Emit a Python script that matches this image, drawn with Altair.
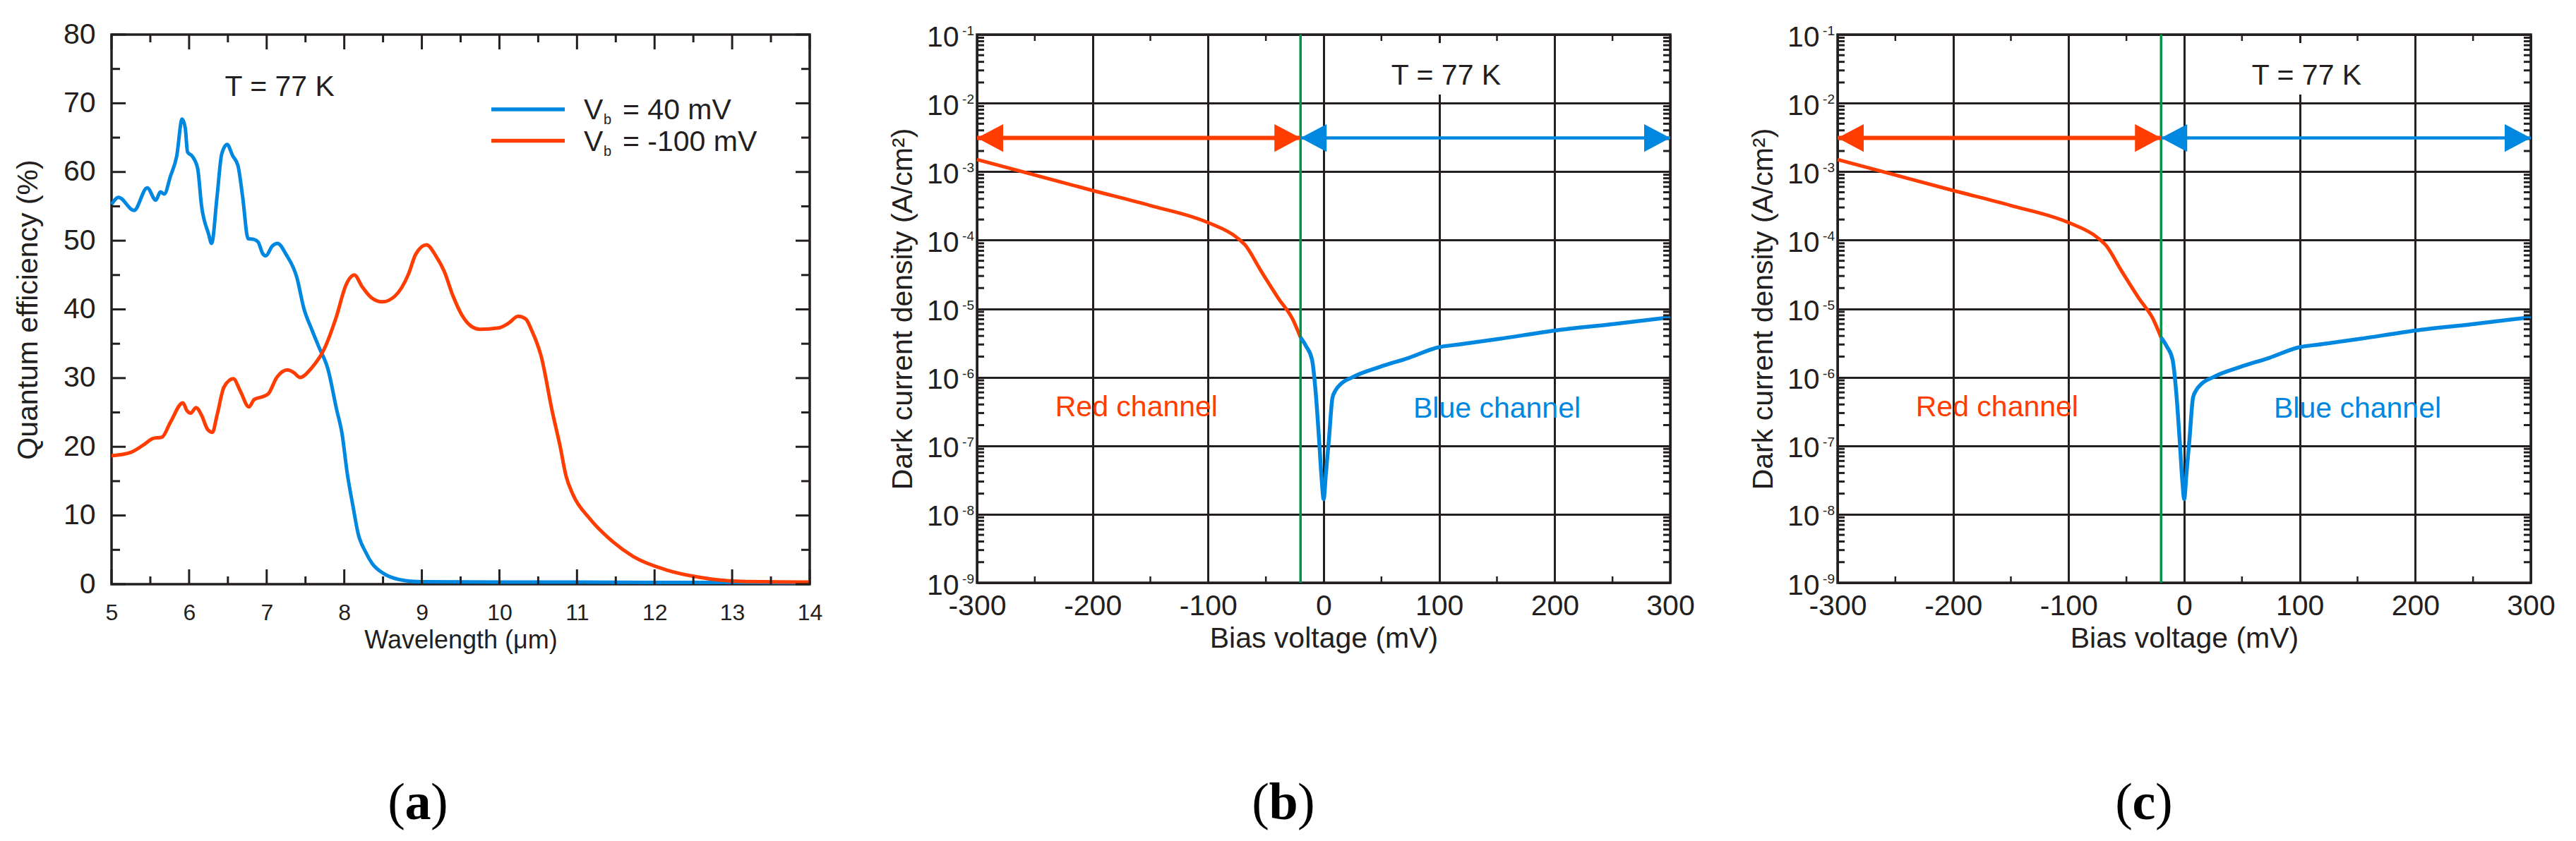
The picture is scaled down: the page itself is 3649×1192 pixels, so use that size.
import altair as alt
import pandas as pd

TXT = "#231F20"
BLUE = "#0088E0"
RED = "#FF3D00"
GREEN = "#00934A"
FONT = "Liberation Sans"
SERIF = "Liberation Serif"

WA, HA = 989, 779
WB, HB = 982, 777

# ---------------- panel (a): quantum efficiency ----------------
wl_blue = [5.00, 5.09, 5.29, 5.46, 5.57, 5.63, 5.68, 5.76, 5.84, 5.91,
           5.95, 5.98, 6.04, 6.11, 6.16, 6.25, 6.29, 6.36, 6.42, 6.49,
           6.56, 6.63, 6.69, 6.76, 6.83, 6.89, 6.95, 6.99, 7.07, 7.14,
           7.25, 7.39, 7.48, 7.58, 7.67, 7.79, 7.90, 7.97, 8.04, 8.11,
           8.18, 8.27, 8.36, 8.50, 8.70, 9.00, 10.0, 11.0, 12.0, 13.0, 14.0]
qe_blue = [55.3, 56.3, 54.4, 57.7, 55.9, 57.1, 56.8, 59.4, 62.3, 67.7,
           66.4, 62.9, 62.3, 60.5, 55.1, 51.0, 49.6, 56.4, 62.6, 64.0,
           62.4, 60.9, 56.4, 50.3, 50.2, 49.8, 48.1, 47.8, 49.2, 49.6,
           48.0, 44.6, 40.1, 37.1, 34.6, 31.3, 25.5, 22.0, 16.0, 11.5,
           7.3, 4.8, 3.0, 1.6, 0.7, 0.35, 0.3, 0.3, 0.25, 0.25, 0.2]

wl_red = [5.00, 5.25, 5.44, 5.53, 5.65, 5.76, 5.92, 5.97, 6.02, 6.09,
          6.16, 6.24, 6.30, 6.36, 6.45, 6.57, 6.66, 6.77, 6.84, 6.95,
          7.02, 7.13, 7.27, 7.35, 7.43, 7.58, 7.74, 7.90, 8.02, 8.13,
          8.23, 8.35, 8.49, 8.65, 8.83, 8.92, 9.06, 9.18, 9.29, 9.40,
          9.52, 9.63, 9.75, 9.99, 10.12, 10.24, 10.34, 10.41, 10.54, 10.68,
          10.78, 10.86, 10.95, 11.16, 11.46, 11.73, 12.16, 12.58, 13.1, 14.0]
qe_red = [18.7, 19.2, 20.5, 21.2, 21.4, 23.6, 26.4, 25.3, 24.9, 25.7,
          24.6, 22.5, 22.1, 24.6, 28.7, 29.9, 28.1, 25.8, 26.9, 27.3,
          27.7, 30.1, 31.2, 30.8, 30.1, 31.5, 34.2, 39.0, 43.5, 45.0,
          43.3, 41.7, 41.1, 41.9, 45.2, 48.0, 49.4, 47.8, 45.5, 42.0,
          39.1, 37.6, 37.1, 37.3, 38.0, 39.0, 38.6, 37.1, 33.1, 25.2,
          20.2, 15.7, 13.0, 9.6, 6.2, 4.0, 2.05, 1.0, 0.4, 0.3]

a_xticks = [5, 6, 7, 8, 9, 10, 11, 12, 13, 14]
a_xminor = [5.5, 6.5, 7.5, 8.5, 9.5, 10.5, 11.5, 12.5, 13.5]
a_yticks = [0, 10, 20, 30, 40, 50, 60, 70, 80]
a_yminor = [5, 15, 25, 35, 45, 55, 65, 75]

legend_colors = [BLUE, RED]
legend_symbol = ["V", "V"]
legend_sub = ["b", "b"]
legend_rest = ["= 40 mV", "= -100 mV"]

temp_label = ["T = 77 K"]
a_temp_x = [6.46]
a_temp_y = [71.06]

# ---------------- panels (b), (c): dark current ----------------
bias_red = [-300, -200, -150, -100, -76, -68, -54, -39, -27, -20]
jd_red = [1.5e-3, 5.3e-4, 3.2e-4, 1.8e-4, 1.12e-4, 8.5e-5, 3.5e-5, 1.4e-5, 7.1e-6, 3.8e-6]

bias_blue = [-20, -15, -10, -7, -4, -1.7, 0, 2, 4.6, 7.6,
             10, 15, 25, 48.5, 73, 100, 117, 151, 200, 248, 300]
jd_blue = [3.8e-6, 2.8e-6, 1.78e-6, 6.3e-7, 1.26e-7, 3.2e-8, 1.66e-8, 4e-8, 1.26e-7, 5e-7,
           6.3e-7, 8e-7, 1.0e-6, 1.41e-6, 1.9e-6, 2.75e-6, 3.0e-6, 3.6e-6, 4.8e-6, 5.9e-6, 7.5e-6]

b_xticks = [-300, -200, -100, 0, 100, 200, 300]
b_xminor = [-250, -150, -50, 50, 150, 250]
b_decades = [1e-9, 1e-8, 1e-7, 1e-6, 1e-5, 1e-4, 1e-3, 1e-2, 1e-1]
b_exponents = ["-9", "-8", "-7", "-6", "-5", "-4", "-3", "-2", "-1"]
b_minor_mult = [2, 3, 4, 5, 6, 7, 8, 9]

split_bias = [-20]
arrow_y = [3.1e-3]
red_arrow_x = [-300, -20]
blue_arrow_x = [-20, 300]

channel_labels = ["Red channel", "Blue channel"]
channel_x = [-162, 150]
channel_y = [3.6e-7, 3.4e-7]
channel_colors = [RED, BLUE]

b_temp_x = [106]
b_temp_y = [0.0186]
temp_box_x = [55, 157]
temp_box_y = [0.0752, 0.01334]

panel_letters = ["a", "b", "c"]
letter_half_width = {"a": 18, "b": 20, "c": 16}

LEFT_HEAD = "M0,0L1,-0.53L1,0.53Z"
RIGHT_HEAD = "M0,0L-1,-0.53L-1,0.53Z"
HEAD_SIZE = (2 * 37) ** 2


def hticks(vals, xf, H, length, width=3):
    d = pd.DataFrame({"v": vals})
    base = alt.Chart(d).mark_rule(color=TXT, strokeWidth=width)
    return [
        base.encode(x=xf("v"), y=alt.value(H), y2=alt.value(H - length)),
        base.encode(x=xf("v"), y=alt.value(0), y2=alt.value(length)),
    ]


def vticks(vals, yf, W, length, width=3):
    d = pd.DataFrame({"v": vals})
    base = alt.Chart(d).mark_rule(color=TXT, strokeWidth=width)
    return [
        base.encode(y=yf("v"), x=alt.value(0), x2=alt.value(length)),
        base.encode(y=yf("v"), x=alt.value(W), x2=alt.value(W - length)),
    ]


def tag_layers(letter):
    cx, cy, hw = 434, 1090, letter_half_width[letter]
    d = pd.DataFrame({"l": ["("], "m": [letter], "r": [")"]})
    base = alt.Chart(d)
    common = dict(font=SERIF, fontSize=74, color="black", baseline="middle")
    return [
        base.mark_text(align="right", fontWeight="normal", **common).encode(
            x=alt.value(cx - hw), y=alt.value(cy), text="l:N"),
        base.mark_text(align="center", fontWeight="bold", **common).encode(
            x=alt.value(cx), y=alt.value(cy), text="m:N"),
        base.mark_text(align="left", fontWeight="normal", **common).encode(
            x=alt.value(cx + hw), y=alt.value(cy), text="r:N"),
    ]


# ---------------- build panel (a) ----------------
xa = alt.Scale(domain=[5, 14], nice=False, zero=False)
ya = alt.Scale(domain=[0, 80], nice=False, zero=False)
axis_xa = alt.Axis(
    values=a_xticks, title="Wavelength (μm)", ticks=False, domain=False, grid=False,
    labelFontSize=32, labelPadding=25, labelFlush=False, labelOverlap=False,
    titleFontSize=36, titlePadding=6)
axis_ya = alt.Axis(
    values=a_yticks, title="Quantum efficiency (%)", ticks=False, domain=False, grid=False,
    labelFontSize=41, labelPadding=23, labelOverlap=False,
    titleFontSize=41, titlePadding=28)


def XA(f):
    return alt.X(f, type="quantitative", scale=xa, axis=axis_xa)


def YA(f):
    return alt.Y(f, type="quantitative", scale=ya, axis=axis_ya)


blue_a = alt.Chart(pd.DataFrame({"wl": wl_blue, "qe": qe_blue})).mark_line(
    color=BLUE, strokeWidth=5, interpolate="monotone"
).encode(x=XA("wl"), y=YA("qe"))
red_a = alt.Chart(pd.DataFrame({"wl": wl_red, "qe": qe_red})).mark_line(
    color=RED, strokeWidth=5, interpolate="monotone"
).encode(x=XA("wl"), y=YA("qe"))

layers_a = [blue_a, red_a]
layers_a += hticks(a_xticks, XA, HA, 21)
layers_a += hticks(a_xminor, XA, HA, 11)
layers_a += vticks(a_yticks, YA, WA, 20)
layers_a += vticks(a_yminor, YA, WA, 12)

layers_a.append(
    alt.Chart(pd.DataFrame({"x": a_temp_x, "y": a_temp_y, "t": temp_label})).mark_text(
        fontSize=41, color=TXT, align="left", baseline="alphabetic"
    ).encode(x=XA("x"), y=YA("y"), text="t:N")
)

LEG_X0, LEG_X1, LEG_Y0, LEG_DY = 538, 642, 106, 44.6
for i in range(len(legend_rest)):
    yl = LEG_Y0 + i * LEG_DY
    d = pd.DataFrame({"sym": [legend_symbol[i]], "sub": [legend_sub[i]], "rest": [legend_rest[i]]})
    base = alt.Chart(d)
    layers_a.append(base.mark_rule(color=legend_colors[i], strokeWidth=5.5).encode(
        x=alt.value(LEG_X0), x2=alt.value(LEG_X1), y=alt.value(yl)))
    layers_a.append(base.mark_text(fontSize=41, color=TXT, align="left", baseline="alphabetic").encode(
        x=alt.value(669), y=alt.value(yl + 14), text="sym:N"))
    layers_a.append(base.mark_text(fontSize=20, color=TXT, align="left", baseline="alphabetic").encode(
        x=alt.value(697), y=alt.value(yl + 21), text="sub:N"))
    layers_a.append(base.mark_text(fontSize=41, color=TXT, align="left", baseline="alphabetic").encode(
        x=alt.value(724), y=alt.value(yl + 14), text="rest:N"))

layers_a += tag_layers(panel_letters[0])
panel_a = alt.layer(*layers_a).properties(width=WA, height=HA)


# ---------------- build panels (b)/(c) ----------------
def panel_jv(letter):
    xs = alt.Scale(domain=[-300, 300], nice=False, zero=False)
    ys = alt.Scale(type="log", domain=[1e-9, 1e-1], nice=False)
    axis_xb = alt.Axis(
        values=b_xticks, title="Bias voltage (mV)", ticks=False, domain=False,
        grid=True, gridWidth=3, gridColor=TXT, gridOpacity=1,
        labelExpr="'' + datum.value", labelFontSize=41, labelPadding=13,
        labelFlush=False, labelOverlap=False, titleFontSize=41, titlePadding=6)
    axis_yb = alt.Axis(
        values=b_decades, title="Dark current density (A/cm²)", ticks=False, domain=False,
        grid=True, gridWidth=3, gridColor=TXT, gridOpacity=1,
        labelExpr="'10'", labelFontSize=41, labelPadding=26, labelOffset=4,
        labelOverlap=False, labelFlush=False, titleFontSize=41, titlePadding=12)

    def XB(f):
        return alt.X(f, type="quantitative", scale=xs, axis=axis_xb)

    def YB(f):
        return alt.Y(f, type="quantitative", scale=ys, axis=axis_yb)

    red_b = alt.Chart(pd.DataFrame({"v": bias_red, "j": jd_red})).mark_line(
        color=RED, strokeWidth=5, interpolate="monotone"
    ).encode(x=XB("v"), y=YB("j"))
    blue_b = alt.Chart(pd.DataFrame({"v": bias_blue, "j": jd_blue})).mark_line(
        color=BLUE, strokeWidth=5.5, interpolate="monotone"
    ).encode(x=XB("v"), y=YB("j"))

    box = alt.Chart(pd.DataFrame({"x0": [temp_box_x[0]], "x1": [temp_box_x[1]],
                                  "y0": [temp_box_y[0]], "y1": [temp_box_y[1]]})).mark_rect(
        color="white").encode(x=XB("x0"), x2=alt.X2("x1"), y=YB("y0"), y2=alt.Y2("y1"))

    green = alt.Chart(pd.DataFrame({"x": split_bias})).mark_rule(
        color=GREEN, strokeWidth=3.5).encode(x=XB("x"))

    layers = [red_b, box, green, blue_b]

    minor_vals = [m * d for d in b_decades[:-1] for m in b_minor_mult]
    layers += vticks(minor_vals, YB, WB, 10, 3)
    layers += hticks(b_xminor, XB, HB, 9, 2.5)

    # superscript exponents for the y labels
    layers.append(alt.Chart(pd.DataFrame({"j": b_decades, "e": b_exponents})).mark_text(
        fontSize=19, color=TXT, align="right", baseline="middle", dy=-5
    ).encode(x=alt.value(-4), y=YB("j"), text="e:N"))

    # arrows
    for xs_pair, col, w in [(red_arrow_x, RED, 6), (blue_arrow_x, BLUE, 4.5)]:
        layers.append(alt.Chart(pd.DataFrame({"x0": [xs_pair[0]], "x1": [xs_pair[1]], "y": arrow_y})).mark_rule(
            color=col, strokeWidth=w).encode(x=XB("x0"), x2=alt.X2("x1"), y=YB("y")))
        layers.append(alt.Chart(pd.DataFrame({"x": [xs_pair[0]], "y": arrow_y})).mark_point(
            shape=LEFT_HEAD, size=HEAD_SIZE, filled=True, opacity=1, color=col, strokeWidth=0
        ).encode(x=XB("x"), y=YB("y")))
        layers.append(alt.Chart(pd.DataFrame({"x": [xs_pair[1]], "y": arrow_y})).mark_point(
            shape=RIGHT_HEAD, size=HEAD_SIZE, filled=True, opacity=1, color=col, strokeWidth=0
        ).encode(x=XB("x"), y=YB("y")))

    for i in range(len(channel_labels)):
        layers.append(alt.Chart(pd.DataFrame({"x": [channel_x[i]], "y": [channel_y[i]], "t": [channel_labels[i]]})).mark_text(
            fontSize=41, color=channel_colors[i], align="center", baseline="middle"
        ).encode(x=XB("x"), y=YB("y"), text="t:N"))

    layers.append(alt.Chart(pd.DataFrame({"x": b_temp_x, "y": b_temp_y, "t": temp_label})).mark_text(
        fontSize=41, color=TXT, align="center", baseline="alphabetic"
    ).encode(x=XB("x"), y=YB("y"), text="t:N"))

    layers += tag_layers(letter)
    return alt.layer(*layers).properties(width=WB, height=HB)


panel_b = panel_jv(panel_letters[1])
panel_c = panel_jv(panel_letters[2])

chart = alt.hconcat(panel_a, panel_b, panel_c, spacing=237, bounds="flush").properties(
    padding={"left": 9, "top": 18, "right": 4, "bottom": 4},
    background="white",
).configure_view(
    stroke=TXT, strokeWidth=3.5
).configure_axis(
    labelFont=FONT, titleFont=FONT, labelColor=TXT, titleColor=TXT, titleFontWeight="normal"
).configure_text(font=FONT)

chart.save("out.html", embed_options={"renderer": "svg", "actions": False})
